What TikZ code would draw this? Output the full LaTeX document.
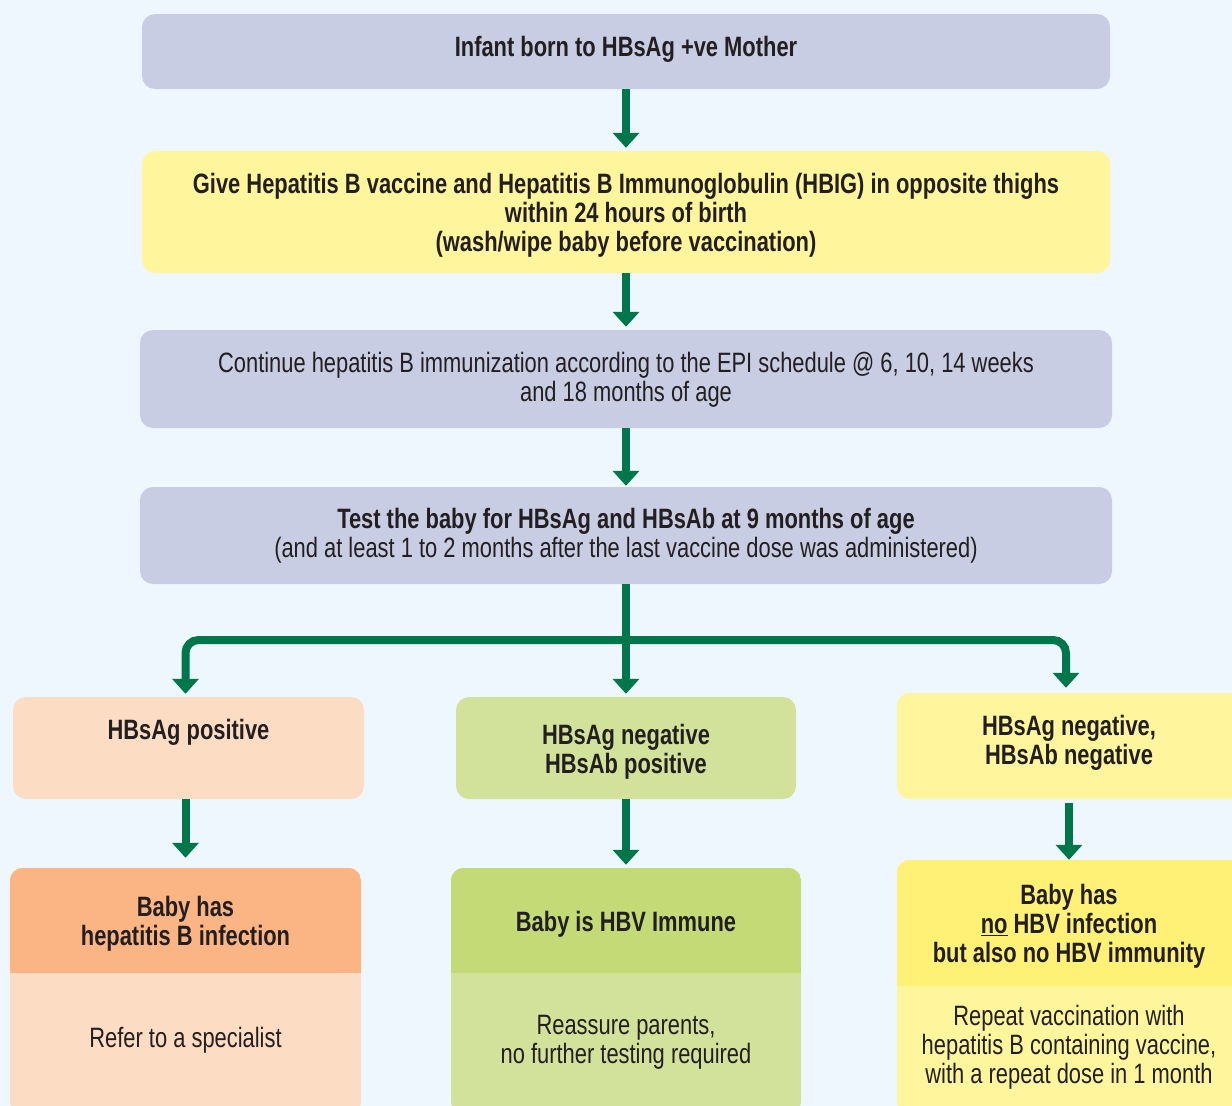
\documentclass[tikz,border=0pt]{standalone}
\usepackage{fontspec}
\setmainfont{Liberation Sans}[FakeStretch=0.782]
\usetikzlibrary{arrows.meta}
\definecolor{bg}{HTML}{EFF7FE}
\definecolor{lav}{HTML}{C8CDE3}
\definecolor{yel}{HTML}{FFF59D}
\definecolor{yelD}{HTML}{FFF176}
\definecolor{peachL}{HTML}{FDDCC4}
\definecolor{peachD}{HTML}{FBB585}
\definecolor{greenL}{HTML}{D3E29A}
\definecolor{greenD}{HTML}{C3DA76}
\definecolor{arrgreen}{HTML}{00774A}
\definecolor{txt}{HTML}{231F20}
\tikzset{
  box/.style={rounded corners=13pt, inner sep=0pt, draw=none},
  lbl/.style={inner sep=0pt, align=center, text=txt, font=\fontsize{28}{29}\selectfont},
  blbl/.style={lbl, font=\fontsize{28}{29}\selectfont\bfseries},
  arr/.style={draw=arrgreen, line width=8pt, -{Triangle[width=26pt,length=15pt]}},
}
\begin{document}
\begin{tikzpicture}[x=1pt,y=-1pt]
\useasboundingbox (0,0) rectangle (1232,1106);
\clip (0,0) rectangle (1232,1106);
\fill[bg] (0,0) rectangle (1232,1106);

% top chain
\node[box, fill=lav, minimum width=968pt, minimum height=75pt] (b1) at (626,51.5) {};
\node[blbl] (t1) at (626,49.5) {Infant born to HBsAg +ve Mother};

\node[box, fill=yel, minimum width=968pt, minimum height=122pt] (b2) at (626,212) {};
\node[blbl] (t2) at (626,215.5) {Give Hepatitis B vaccine and Hepatitis B Immunoglobulin (HBIG) in opposite thighs\\within 24 hours of birth\\(wash/wipe baby before vaccination)};

\node[box, fill=lav, minimum width=972pt, minimum height=98pt] (b3) at (626,379) {};
\node[lbl] (t3) at (626,379.5) {Continue hepatitis B immunization according to the EPI schedule @ 6, 10, 14 weeks\\and 18 months of age};

\node[box, fill=lav, minimum width=972pt, minimum height=97pt] (b4) at (626,535.5) {};
\node[lbl] (t4) at (626,536) {\textbf{Test the baby for HBsAg and HBsAb at 9 months of age}\\(and at least 1 to 2 months after the last vaccine dose was administered)};

% middle row
\node[box, fill=peachL, minimum width=351pt, minimum height=102pt] (A) at (188.5,748) {};
\node[blbl] (tA) at (188.5,732.5) {HBsAg positive};

\node[box, fill=greenL, minimum width=340pt, minimum height=102pt] (B) at (626,748) {};
\node[blbl] (tB) at (626,751.5) {HBsAg negative\\HBsAb positive};

\node[box, fill=yel, minimum width=348pt, minimum height=106pt] (C) at (1071,746) {};
\node[blbl] (tC) at (1069,742.5) {HBsAg negative,\\HBsAb negative};

% bottom row
\node[box, fill=peachL, minimum width=351pt, minimum height=247pt] (D) at (185.5,991.5) {};
\begin{scope}
\clip[rounded corners=13pt] (D.south west) rectangle (D.north east);
\fill[peachD] (D.north west) rectangle (D.east |- 0,973);
\end{scope}
\node[blbl] (tD1) at (185.5,923.5) {Baby has\\hepatitis B infection};
\node[lbl] (tD2) at (185.5,1040.5) {Refer to a specialist};

\node[box, fill=greenL, minimum width=350pt, minimum height=247pt] (E) at (626,991.5) {};
\begin{scope}
\clip[rounded corners=13pt] (E.south west) rectangle (E.north east);
\fill[greenD] (E.north west) rectangle (E.east |- 0,973);
\end{scope}
\node[blbl] (tE1) at (626,924.5) {Baby is HBV Immune};
\node[lbl] (tE2) at (626,1042.5) {Reassure parents,\\no further testing required};

\node[box, fill=yel, minimum width=348pt, minimum height=255pt] (F) at (1071,987.5) {};
\begin{scope}
\clip[rounded corners=13pt] (F.south west) rectangle (F.north east);
\fill[yelD] (F.north west) rectangle (F.east |- 0,986);
\end{scope}
\node[blbl] (tF1) at (1069,926.5) {Baby has\\\underline{no} HBV infection\\but also no HBV immunity};
\node[lbl] (tF2) at (1069,1047.5) {Repeat vaccination with\\hepatitis B containing vaccine,\\with a repeat dose in 1 month};

% connectors
\draw[arr, shorten >=3pt] (b1) -- (b2);
\draw[arr, shorten >=3pt] (b2) -- (b3);
\draw[arr, shorten >=1pt] (b3) -- (b4);
\coordinate (split) at (626,640);
\draw[arr, shorten >=3pt] (b4.south) -- (B.north);
\draw[arr, shorten >=3pt, rounded corners=13pt] (split) -| (A.north -| D.north);
\draw[arr, shorten >=5pt, rounded corners=13pt] (split) -| (C.north -| 1066,0);
\draw[arr, shorten >=10pt] (A.south -| D.north) -- (D.north);
\draw[arr, shorten >=3pt] (B.south) -- (E.north);
\draw[arr, shorten >=0pt] (C.south -| 1069,0) ++(0,4) -- (F.north -| 1069,0);
\end{tikzpicture}
\end{document}
